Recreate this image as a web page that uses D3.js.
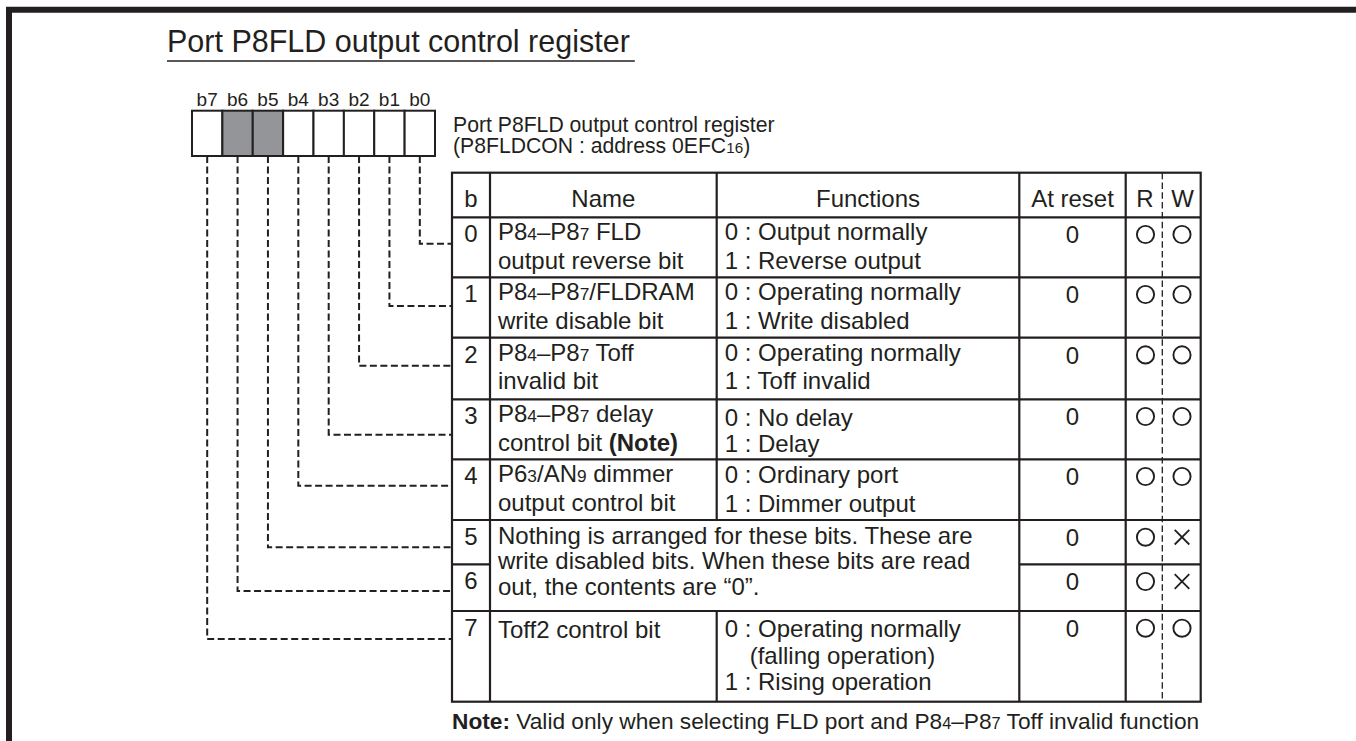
<!DOCTYPE html>
<html><head><meta charset="utf-8">
<script src="https://cdn.jsdelivr.net/npm/d3@7"></script>
<style>
html,body{margin:0;padding:0;background:#fff;}
svg{display:block;}
text{font-family:"Liberation Sans",Arial,Helvetica,sans-serif;fill:#231f20;}
</style></head>
<body>
<script>
// ---------- DATA ----------
const titleText = "Port P8FLD output control register";
const registerName = "Port P8FLD output control register";
const registerAddress = "(P8FLDCON : address 0EFC{16})";
const bitLabels = ["b7","b6","b5","b4","b3","b2","b1","b0"];
const shadedBits = ["b6","b5"];
const headers = ["b","Name","Functions","At reset","R","W"];
const rowBits = ["0","1","2","3","4","5","6","7"];
const bitNames = [
  ["P8{4}–P8{7} FLD","output reverse bit"],
  ["P8{4}–P8{7}/FLDRAM","write disable bit"],
  ["P8{4}–P8{7} Toff","invalid bit"],
  ["P8{4}–P8{7} delay","control bit [(Note)]"],
  ["P6{3}/AN{9} dimmer","output control bit"],
  null,
  null,
  ["Toff2 control bit"]
];
const bitFunctions = [
  ["0 : Output normally","1 : Reverse output"],
  ["0 : Operating normally","1 : Write disabled"],
  ["0 : Operating normally","1 : Toff invalid"],
  ["0 : No delay","1 : Delay"],
  ["0 : Ordinary port","1 : Dimmer output"],
  null,
  null,
  ["0 : Operating normally","(falling operation)","1 : Rising operation"]
];
const reservedText = ["Nothing is arranged for these bits. These are","write disabled bits. When these bits are read","out, the contents are “0”."];
const atReset = ["0","0","0","0","0","0","0","0"];
const readAccess = ["O","O","O","O","O","O","O","O"];
const writeAccess = ["O","O","O","O","O","X","X","O"];
const noteText = "[Note:] Valid only when selecting FLD port and P8{4}–P8{7} Toff invalid function";

// ---------- LAYOUT ----------
const W = 1356, H = 741;
const ink = "#231f20";
const colEdges = [452, 490, 716.7, 1019.3, 1125.7, 1162.3, 1200.7];
const rowEdges = [172.7, 217.3, 277.3, 337.7, 399.3, 459.3, 520, 564.3, 611, 701.7];
const leaderOffset = [26.5, 28.7, 28, 35.4, 26.4, 27.3, 26.7, 28];
const nameLayout = {0:[23,28.3],1:[23,28.3],2:[23,28.3],3:[23,28.3],4:[23,28.3],7:[27.3,26.5]};
const funcLayout = {0:[23,28.3],1:[23,28.3],2:[23,28.3],3:[26.7,25.7],4:[24,28.3],7:[26.3,26.4]};

const svg = d3.select("body").append("svg").attr("width", W).attr("height", H);

// rich text helper: {x} = small, [x] = bold
function rich(sel, str, size){
  const re = /(\{[^}]*\}|\[[^\]]*\])/g;
  str.split(re).filter(s=>s.length).forEach(p=>{
    const t = sel.append("tspan");
    if(p[0]==="{"){ t.text(p.slice(1,-1)).attr("font-size", size*0.72); }
    else if(p[0]==="["){ t.text(p.slice(1,-1)).attr("font-weight","bold"); }
    else t.text(p);
  });
}

// frame
svg.append("path").attr("d",`M9,${H} V9.7 H${W}`).attr("fill","none").attr("stroke",ink).attr("stroke-width",6);

// title
const tt = svg.append("text").attr("x",167).attr("y",51.5).attr("font-size",30.5).text(titleText);
const tw = tt.node().getComputedTextLength();
svg.append("line").attr("x1",167).attr("x2",167+tw+5).attr("y1",61).attr("y2",61).attr("stroke",ink).attr("stroke-width",1.7);

// register boxes
const xBit = d3.scaleBand().domain(bitLabels).range([192,435]);
const regTop = 110.7, regBot = 156;
svg.selectAll("text.bl").data(bitLabels).join("text").attr("class","bl")
  .attr("x",d=>xBit(d)+xBit.bandwidth()/2).attr("y",106).attr("text-anchor","middle").attr("font-size",19).text(d=>d);
svg.selectAll("rect.bit").data(bitLabels).join("rect").attr("class","bit")
  .attr("x",d=>xBit(d)).attr("y",regTop).attr("width",xBit.bandwidth()).attr("height",regBot-regTop)
  .attr("fill",d=>shadedBits.includes(d)?"#939598":"#fff").attr("stroke",ink).attr("stroke-width",2);

// register caption
const cap1 = svg.append("text").attr("x",453).attr("y",131.7).attr("font-size",21.2);
rich(cap1, registerName, 21.2);
const cap2 = svg.append("text").attr("x",453).attr("y",153.3).attr("font-size",21.2);
rich(cap2, registerAddress, 21.2);

// table scales
const yRow = d3.scaleOrdinal().domain(["head",...rowBits,"end"]).range(rowEdges);
const colKeys = ["b","name","func","reset","r","w","end"];
const xCol = d3.scaleOrdinal().domain(colKeys).range(colEdges);
const colMid = k => { const i = colKeys.indexOf(k); return (colEdges[i]+colEdges[i+1])/2; };
const rowTop = b => yRow(b);

// leaders
svg.selectAll("path.lead").data(rowBits).join("path").attr("class","lead")
  .attr("d",(b,i)=>{ const x = xBit("b"+b)+xBit.bandwidth()/2; const y = rowTop(b)+leaderOffset[i];
    return `M${x},${regBot} V${y} H${xCol("b")}`; })
  .attr("fill","none").attr("stroke",ink).attr("stroke-width",2).attr("stroke-dasharray","7,3.5");

// table lines
const g = svg.append("g").attr("stroke",ink).attr("stroke-width",2.2).attr("fill","none");
const L = (x1,y1,x2,y2)=>g.append("line").attr("x1",x1).attr("y1",y1).attr("x2",x2).attr("y2",y2);
const tTop = yRow("head"), tBot = yRow("end"), tL = xCol("b"), tR = xCol("end");
g.append("rect").attr("x",tL).attr("y",tTop).attr("width",tR-tL).attr("height",tBot-tTop);
["0","1","2","3","4","5","7"].forEach(b=>L(tL,rowTop(b),tR,rowTop(b)));
L(tL,rowTop("6"),xCol("name"),rowTop("6"));
L(xCol("reset"),rowTop("6"),tR,rowTop("6"));
L(xCol("name"),tTop,xCol("name"),tBot);
L(xCol("func"),tTop,xCol("func"),rowTop("5"));
L(xCol("func"),rowTop("7"),xCol("func"),tBot);
L(xCol("reset"),tTop,xCol("reset"),tBot);
L(xCol("r"),tTop,xCol("r"),tBot);
svg.append("line").attr("x1",xCol("w")).attr("x2",xCol("w")).attr("y1",tTop).attr("y2",tBot)
  .attr("stroke",ink).attr("stroke-width",1.3).attr("stroke-dasharray","6.5,3.3");

// headers
const FS = 24;
svg.selectAll("text.hd").data(headers).join("text").attr("class","hd")
  .attr("x",(d,i)=>colMid(colKeys[i])+(i>=4?1:0)).attr("y",tTop+34).attr("text-anchor","middle").attr("font-size",FS).text(d=>d);

// bit numbers
svg.selectAll("text.bn").data(rowBits).join("text").attr("class","bn")
  .attr("x",colMid("b")).attr("y",b=>rowTop(b)+24.8).attr("text-anchor","middle").attr("font-size",FS).text(b=>b);

// names and functions
rowBits.forEach((b,i)=>{
  if(bitNames[i]){
    const [off,sp] = nameLayout[i];
    bitNames[i].forEach((ln,j)=>{
      const t = svg.append("text").attr("x",xCol("name")+8).attr("y",rowTop(b)+off+j*sp).attr("font-size",FS);
      rich(t, ln, FS);
    });
  }
  if(bitFunctions[i]){
    const [off,sp] = funcLayout[i];
    bitFunctions[i].forEach((ln,j)=>{
      svg.append("text").attr("x",xCol("func")+8+(ln[0]==="("?25:0)).attr("y",rowTop(b)+off+j*sp).attr("font-size",FS).text(ln);
    });
  }
});
reservedText.forEach((ln,j)=>{
  svg.append("text").attr("x",xCol("name")+8).attr("y",rowTop("5")+23.5+j*25.5).attr("font-size",FS).text(ln);
});

// at reset
svg.selectAll("text.rs").data(atReset).join("text").attr("class","rs")
  .attr("x",colMid("reset")).attr("y",(d,i)=>rowTop(rowBits[i])+25.8).attr("text-anchor","middle").attr("font-size",FS).text(d=>d);

// R/W marks
function mark(sel, kind, cx, cy){
  if(kind==="O") sel.append("circle").attr("cx",cx).attr("cy",cy).attr("r",8.6).attr("fill","none").attr("stroke",ink).attr("stroke-width",1.9);
  else { const s=7.3;
    sel.append("path").attr("d",`M${cx-s},${cy-s} L${cx+s},${cy+s} M${cx+s},${cy-s} L${cx-s},${cy+s}`).attr("stroke",ink).attr("stroke-width",1.8).attr("fill","none"); }
}
const mg = svg.append("g");
rowBits.forEach((b,i)=>{
  const cy = rowTop(b)+17.2;
  mark(mg, readAccess[i], colMid("r")+1.5, cy);
  mark(mg, writeAccess[i], colMid("w")+0.5, cy);
});

// note
const nt = svg.append("text").attr("x",452).attr("y",729).attr("font-size",22.7);
rich(nt, noteText, 22.7);
</script>
</body></html>
